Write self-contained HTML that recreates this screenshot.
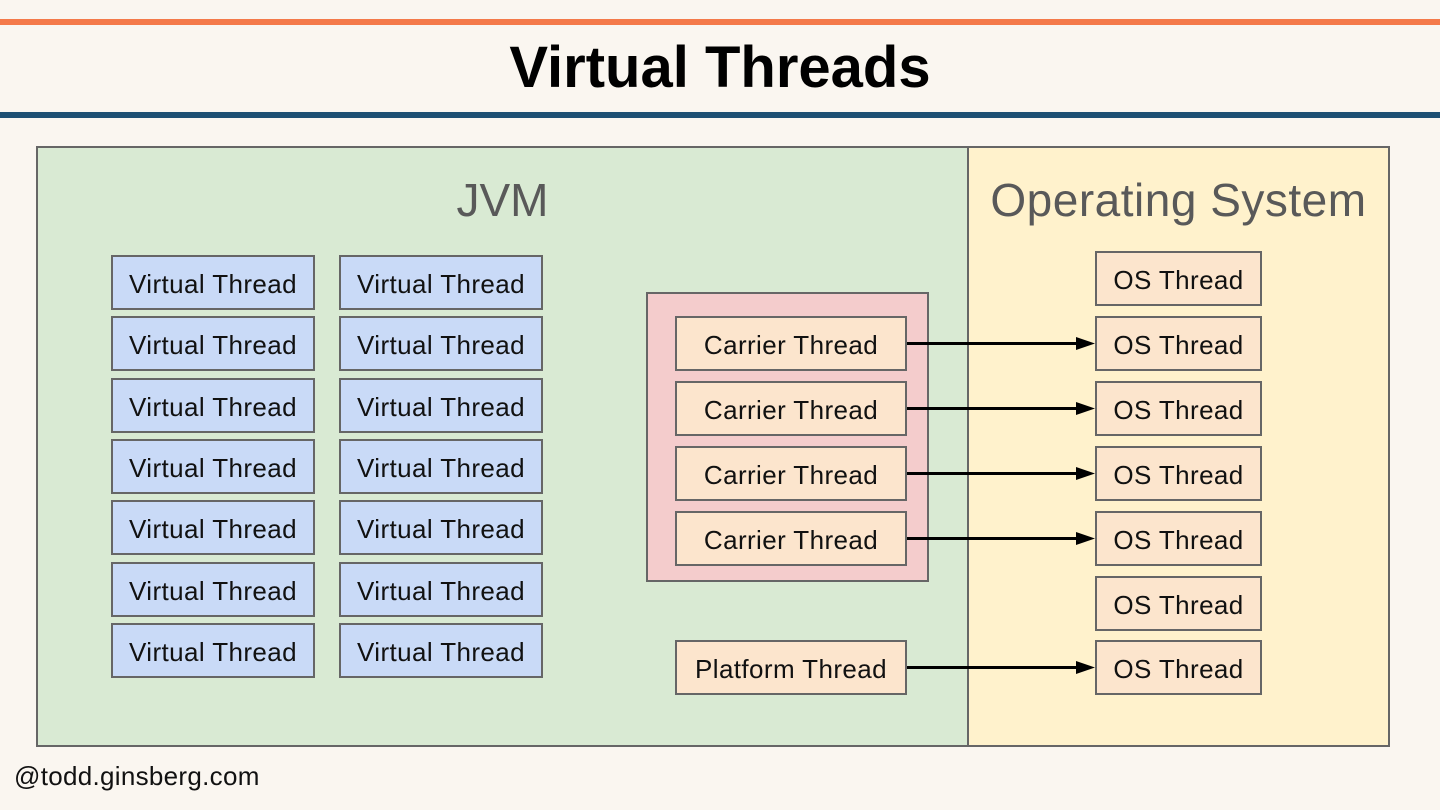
<!DOCTYPE html>
<html><head><style>
body{margin:0;width:1440px;height:810px;background:#faf6f0;position:relative;overflow:hidden;font-family:"Liberation Sans",sans-serif}
.a{position:absolute;box-sizing:border-box}
.b{position:absolute;box-sizing:border-box;border:2px solid #666;display:flex;align-items:center;justify-content:center;font-size:26px;letter-spacing:0.4px;color:#111;padding-top:3px}
.v{background:#c9daf7;width:204px;height:55px}
.c{background:#fce5cd;width:232px;height:55px}
.o{background:#fce5cd;width:167px;height:55px;left:1095px}
</style></head><body>
<div class="a" style="left:0;top:19px;width:1440px;height:6px;background:#f47a4a"></div>
<div class="a" style="left:0;top:112px;width:1440px;height:6px;background:#1d5073"></div>
<div class="a" style="left:0;top:34px;width:1440px;text-align:center;font-size:58px;font-weight:bold;color:#000">Virtual Threads</div>
<div class="a" style="left:36px;top:146px;width:933px;height:601px;background:#d9ead3;border:2px solid #666"></div>
<div class="a" style="left:967px;top:146px;width:423px;height:601px;background:#fff2cc;border:2px solid #666"></div>
<div class="a" style="left:36px;top:173px;width:933px;text-align:center;font-size:46px;color:#595959">JVM</div>
<div class="a" style="left:967px;top:173px;width:423px;text-align:center;font-size:46px;letter-spacing:0.5px;color:#595959">Operating System</div>
<div class="a" style="left:646px;top:292px;width:283px;height:290px;background:#f4cccc;border:2px solid #666"></div>

<div class="b v" style="left:111px;top:255px">Virtual Thread</div>
<div class="b v" style="left:111px;top:316px">Virtual Thread</div>
<div class="b v" style="left:111px;top:378px">Virtual Thread</div>
<div class="b v" style="left:111px;top:439px">Virtual Thread</div>
<div class="b v" style="left:111px;top:500px">Virtual Thread</div>
<div class="b v" style="left:111px;top:562px">Virtual Thread</div>
<div class="b v" style="left:111px;top:623px">Virtual Thread</div>
<div class="b v" style="left:339px;top:255px">Virtual Thread</div>
<div class="b v" style="left:339px;top:316px">Virtual Thread</div>
<div class="b v" style="left:339px;top:378px">Virtual Thread</div>
<div class="b v" style="left:339px;top:439px">Virtual Thread</div>
<div class="b v" style="left:339px;top:500px">Virtual Thread</div>
<div class="b v" style="left:339px;top:562px">Virtual Thread</div>
<div class="b v" style="left:339px;top:623px">Virtual Thread</div>

<div class="b c" style="left:675px;top:316px">Carrier Thread</div>
<div class="b c" style="left:675px;top:381px">Carrier Thread</div>
<div class="b c" style="left:675px;top:446px">Carrier Thread</div>
<div class="b c" style="left:675px;top:511px">Carrier Thread</div>
<div class="b c" style="left:675px;top:640px">Platform Thread</div>

<div class="b o" style="top:251px">OS Thread</div>
<div class="b o" style="top:316px">OS Thread</div>
<div class="b o" style="top:381px">OS Thread</div>
<div class="b o" style="top:446px">OS Thread</div>
<div class="b o" style="top:511px">OS Thread</div>
<div class="b o" style="top:576px">OS Thread</div>
<div class="b o" style="top:640px">OS Thread</div>

<svg class="a" style="left:0;top:0" width="1440" height="810">
<g stroke="#000" stroke-width="3" fill="#000">
<line x1="907" y1="343.5" x2="1078" y2="343.5"/><path d="M1076 337L1095 343.5L1076 350Z" stroke="none"/>
<line x1="907" y1="408.5" x2="1078" y2="408.5"/><path d="M1076 402L1095 408.5L1076 415Z" stroke="none"/>
<line x1="907" y1="473.5" x2="1078" y2="473.5"/><path d="M1076 467L1095 473.5L1076 480Z" stroke="none"/>
<line x1="907" y1="538.5" x2="1078" y2="538.5"/><path d="M1076 532L1095 538.5L1076 545Z" stroke="none"/>
<line x1="907" y1="667.5" x2="1078" y2="667.5"/><path d="M1076 661L1095 667.5L1076 674Z" stroke="none"/>
</g></svg>
<div class="a" style="left:14px;top:761px;font-size:26px;letter-spacing:0.3px;color:#111">@todd.ginsberg.com</div>
</body></html>
